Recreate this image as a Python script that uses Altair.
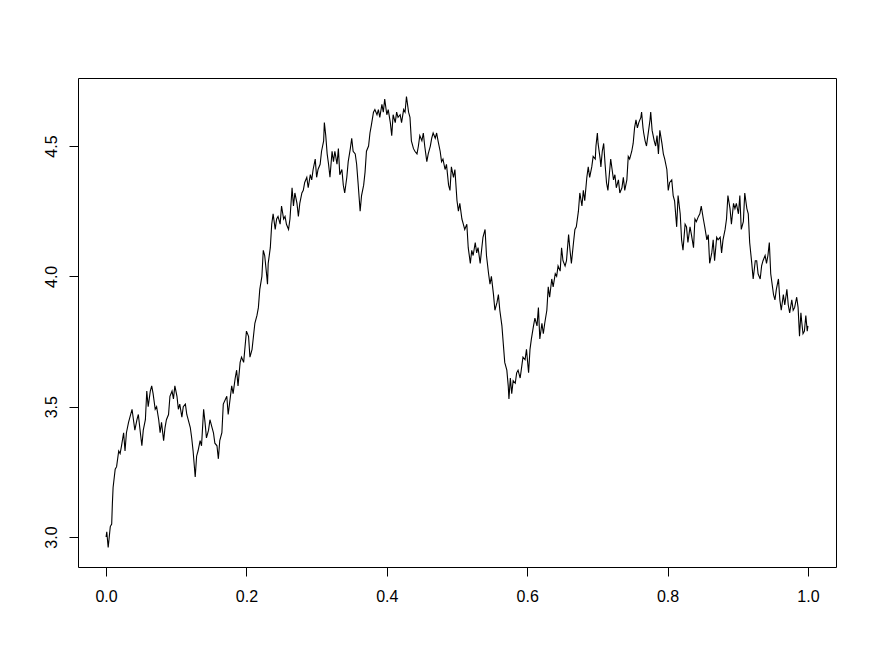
import altair as alt
import pandas as pd

# time points
t = [
    0.000, 0.001, 0.003, 0.006, 0.008, 0.009, 0.010, 0.013, 0.015, 0.018, 0.020,
    0.022, 0.025, 0.027, 0.029, 0.032, 0.034, 0.037, 0.039, 0.041, 0.044, 0.046,
    0.048, 0.051, 0.053, 0.056, 0.058, 0.060, 0.063, 0.065, 0.067, 0.070, 0.072,
    0.075, 0.077, 0.079, 0.082, 0.084, 0.086, 0.089, 0.091, 0.094, 0.096, 0.098,
    0.101, 0.103, 0.105, 0.108, 0.110, 0.113, 0.115, 0.117, 0.120, 0.122, 0.124,
    0.127, 0.129, 0.131, 0.134, 0.136, 0.139, 0.141, 0.143, 0.146, 0.148, 0.151,
    0.153, 0.155, 0.158, 0.160, 0.162, 0.165,
    0.167, 0.172, 0.174, 0.179, 0.181, 0.184, 0.186, 0.188, 0.191, 0.193, 0.196,
    0.198, 0.200, 0.203, 0.205, 0.208, 0.210, 0.212, 0.215, 0.217, 0.219, 0.222,
    0.224, 0.226, 0.229, 0.230, 0.231, 0.234, 0.236, 0.238, 0.241, 0.243, 0.245,
    0.248, 0.250, 0.253, 0.255, 0.257, 0.260, 0.262, 0.265, 0.267, 0.269, 0.272,
    0.274, 0.276, 0.279, 0.281, 0.283, 0.286, 0.288, 0.291, 0.293, 0.295, 0.298,
    0.300, 0.302, 0.305, 0.307, 0.310, 0.311, 0.313, 0.315, 0.317,
    0.319, 0.322, 0.324, 0.326, 0.329, 0.331, 0.333, 0.336, 0.338, 0.340, 0.343,
    0.345, 0.348, 0.350, 0.352, 0.355, 0.357, 0.359, 0.362, 0.364, 0.367, 0.369,
    0.371, 0.374, 0.376, 0.378, 0.381, 0.383, 0.386, 0.388, 0.390, 0.393, 0.395,
    0.397, 0.400, 0.402, 0.405, 0.407, 0.409, 0.412, 0.414, 0.416, 0.419, 0.421,
    0.424, 0.426, 0.428, 0.431, 0.433, 0.435, 0.438, 0.440, 0.443, 0.445, 0.447,
    0.450, 0.452, 0.454, 0.457, 0.459, 0.462, 0.464, 0.466, 0.469, 0.471, 0.473,
    0.476, 0.478, 0.480, 0.483, 0.485, 0.488,
    0.490, 0.492, 0.495, 0.497, 0.500, 0.502, 0.504, 0.507, 0.509, 0.511, 0.514,
    0.516, 0.519, 0.521, 0.523, 0.526, 0.528, 0.530, 0.533, 0.535, 0.537, 0.540,
    0.542, 0.545, 0.547, 0.549, 0.552, 0.554, 0.557, 0.559, 0.561, 0.564, 0.566,
    0.568, 0.571, 0.573, 0.574, 0.576, 0.578, 0.580, 0.583, 0.585, 0.587, 0.590,
    0.592, 0.594, 0.597, 0.599, 0.602, 0.604, 0.606, 0.609, 0.611, 0.614, 0.616,
    0.618, 0.621, 0.623, 0.625, 0.628, 0.630, 0.632, 0.635, 0.637, 0.640, 0.642,
    0.644, 0.647, 0.649, 0.651, 0.654, 0.656, 0.659, 0.661, 0.663, 0.666, 0.668,
    0.670, 0.673,
    0.675, 0.678, 0.680, 0.682, 0.685, 0.687, 0.689, 0.692, 0.694, 0.697, 0.698,
    0.700, 0.701, 0.704, 0.705, 0.707, 0.709, 0.711, 0.713, 0.715, 0.717, 0.719,
    0.721, 0.723, 0.725, 0.727, 0.730, 0.732, 0.735, 0.737, 0.739, 0.742, 0.744,
    0.746, 0.749, 0.751, 0.753, 0.755, 0.757, 0.759, 0.762, 0.763, 0.765, 0.766,
    0.768, 0.770, 0.772, 0.775, 0.776, 0.778, 0.781, 0.783, 0.785, 0.787, 0.789,
    0.792, 0.794, 0.796, 0.799, 0.801, 0.803, 0.806, 0.808, 0.810, 0.813, 0.815,
    0.818, 0.820, 0.822, 0.825, 0.827, 0.829,
    0.832, 0.834, 0.837, 0.839, 0.841, 0.844, 0.846, 0.848, 0.851, 0.853, 0.856,
    0.858, 0.860, 0.863, 0.865, 0.867, 0.870, 0.872, 0.875, 0.877, 0.879, 0.882,
    0.884, 0.886, 0.889, 0.891, 0.894, 0.896, 0.898, 0.901, 0.903, 0.905, 0.908,
    0.910, 0.913, 0.915, 0.917, 0.920, 0.922, 0.925, 0.927, 0.929, 0.932, 0.934,
    0.936, 0.939, 0.941, 0.943, 0.945, 0.947, 0.948, 0.951, 0.953, 0.955, 0.958,
    0.960, 0.962, 0.965, 0.967, 0.970, 0.972, 0.974, 0.977, 0.979, 0.981, 0.984,
    0.986, 0.988, 0.990, 0.991, 0.993, 0.995, 0.997, 0.999, 1.000,
]

# path values
w = [
    3.00, 3.02, 2.96, 3.04, 3.05, 3.13, 3.19, 3.26, 3.27, 3.33, 3.32,
    3.35, 3.40, 3.33, 3.40, 3.44, 3.46, 3.49, 3.45, 3.41, 3.45, 3.47,
    3.42, 3.35, 3.41, 3.45, 3.56, 3.50, 3.56, 3.58, 3.55, 3.49, 3.50,
    3.45, 3.40, 3.44, 3.37, 3.42, 3.45, 3.47, 3.54, 3.56, 3.53, 3.58,
    3.54, 3.49, 3.51, 3.46, 3.50, 3.51, 3.47, 3.45, 3.42, 3.38, 3.33,
    3.23, 3.31, 3.33, 3.37, 3.35, 3.49, 3.44, 3.38, 3.41, 3.45, 3.42,
    3.40, 3.36, 3.35, 3.30, 3.37, 3.40,
    3.51, 3.54, 3.47, 3.58, 3.55, 3.61, 3.64, 3.58, 3.67, 3.69, 3.67,
    3.73, 3.79, 3.77, 3.69, 3.72, 3.77, 3.82, 3.85, 3.88, 3.95, 4.00,
    4.10, 4.08, 4.00, 3.97, 4.05, 4.11, 4.20, 4.24, 4.18, 4.22, 4.23,
    4.20, 4.27, 4.22, 4.23, 4.20, 4.18, 4.22, 4.34, 4.27, 4.32, 4.28,
    4.23, 4.28, 4.32, 4.33, 4.36, 4.38, 4.34, 4.39, 4.37, 4.41, 4.45,
    4.38, 4.41, 4.43, 4.48, 4.52, 4.59, 4.54, 4.47, 4.43,
    4.38, 4.48, 4.44, 4.48, 4.43, 4.49, 4.39, 4.41, 4.35, 4.32, 4.38,
    4.44, 4.49, 4.53, 4.48, 4.47, 4.43, 4.36, 4.25, 4.31, 4.35, 4.40,
    4.48, 4.50, 4.55, 4.58, 4.63, 4.64, 4.62, 4.64, 4.61, 4.66, 4.63,
    4.68, 4.62, 4.64, 4.59, 4.54, 4.62, 4.59, 4.63, 4.61, 4.62, 4.59,
    4.64, 4.63, 4.69, 4.63, 4.61, 4.52, 4.49, 4.48, 4.47, 4.50, 4.54,
    4.52, 4.55, 4.50, 4.44, 4.47, 4.50, 4.53, 4.55, 4.53, 4.55, 4.52,
    4.48, 4.44, 4.45, 4.41, 4.43, 4.35,
    4.33, 4.42, 4.38, 4.41, 4.29, 4.25, 4.28, 4.22, 4.20, 4.18, 4.20,
    4.11, 4.05, 4.10, 4.08, 4.13, 4.09, 4.11, 4.05, 4.10, 4.15, 4.18,
    4.08, 4.01, 3.97, 4.00, 3.93, 3.87, 3.90, 3.93, 3.87, 3.81, 3.74,
    3.67, 3.64, 3.58, 3.53, 3.61, 3.55, 3.60, 3.59, 3.63, 3.64, 3.61,
    3.65, 3.69, 3.68, 3.72, 3.63, 3.72, 3.76, 3.81, 3.84, 3.81, 3.88,
    3.76, 3.82, 3.78, 3.82, 3.87, 3.96, 3.92, 3.99, 3.96, 4.01, 4.00,
    4.04, 4.02, 4.11, 4.06, 4.04, 4.06, 4.16, 4.10, 4.05, 4.13, 4.18,
    4.19, 4.25,
    4.32, 4.27, 4.33, 4.29, 4.38, 4.42, 4.38, 4.42, 4.46, 4.45, 4.50,
    4.55, 4.51, 4.45, 4.42, 4.48, 4.51, 4.43, 4.36, 4.33, 4.39, 4.45,
    4.41, 4.37, 4.39, 4.34, 4.37, 4.32, 4.34, 4.38, 4.33, 4.37, 4.46,
    4.45, 4.48, 4.51, 4.57, 4.60, 4.57, 4.59, 4.61, 4.63, 4.57, 4.55,
    4.52, 4.50, 4.54, 4.60, 4.63, 4.56, 4.52, 4.50, 4.54, 4.47, 4.56,
    4.51, 4.47, 4.45, 4.41, 4.33, 4.36, 4.37, 4.31, 4.29, 4.19, 4.31,
    4.24, 4.14, 4.10, 4.20, 4.19, 4.13,
    4.19, 4.16, 4.11, 4.22, 4.21, 4.23, 4.24, 4.27, 4.22, 4.19, 4.14,
    4.16, 4.05, 4.09, 4.14, 4.06, 4.15, 4.14, 4.15, 4.09, 4.14, 4.18,
    4.22, 4.31, 4.26, 4.20, 4.28, 4.26, 4.28, 4.24, 4.31, 4.18, 4.21,
    4.32, 4.26, 4.24, 4.13, 4.05, 3.99, 4.06, 4.06, 4.01, 3.99, 4.04,
    4.06, 4.08, 4.05, 4.08, 4.13, 4.01, 3.99, 3.93, 3.91, 3.95, 3.99,
    3.91, 3.87, 3.93, 3.89, 3.95, 3.89, 3.86, 3.91, 3.87, 3.88, 3.92,
    3.88, 3.77, 3.86, 3.83, 3.78, 3.79, 3.85, 3.79, 3.81,
]

x_ticks = [0.0, 0.2, 0.4, 0.6, 0.8, 1.0]
y_ticks = [3.0, 3.5, 4.0, 4.5]

df = pd.DataFrame({"t": t, "w": w})

font = "Liberation Sans"

chart = (
    alt.Chart(df)
    .mark_line(color="black", strokeWidth=1.1)
    .encode(
        x=alt.X(
            "t:Q",
            scale=alt.Scale(domain=[-0.04, 1.04], nice=False, zero=False),
            axis=alt.Axis(
                values=x_ticks, format=".1f", title=None, grid=False,
                domain=False, tickSize=9, tickColor="black", tickWidth=1,
                labelFont=font, labelFontSize=16, labelColor="black",
                labelPadding=12, labelFlush=False,
            ),
        ),
        y=alt.Y(
            "w:Q",
            scale=alt.Scale(domain=[2.885, 4.761], nice=False, zero=False),
            axis=alt.Axis(
                values=y_ticks, format=".1f", title=None, grid=False,
                domain=False, tickSize=9, tickColor="black", tickWidth=1,
                labelFont=font, labelFontSize=16, labelColor="black",
                labelAngle=270, labelAlign="center", labelBaseline="alphabetic",
                labelPadding=13, labelFlush=False,
            ),
        ),
        order="t:Q",
    )
    .properties(
        width=758,
        height=489,
        background="white",
        autosize=alt.AutoSizeParams(type="none"),
        padding={"left": 70, "top": 70, "right": 25, "bottom": 70},
    )
    .configure_view(stroke="black", strokeWidth=1)
)

chart.save("out.html", embed_options={"renderer": "svg", "actions": False})
